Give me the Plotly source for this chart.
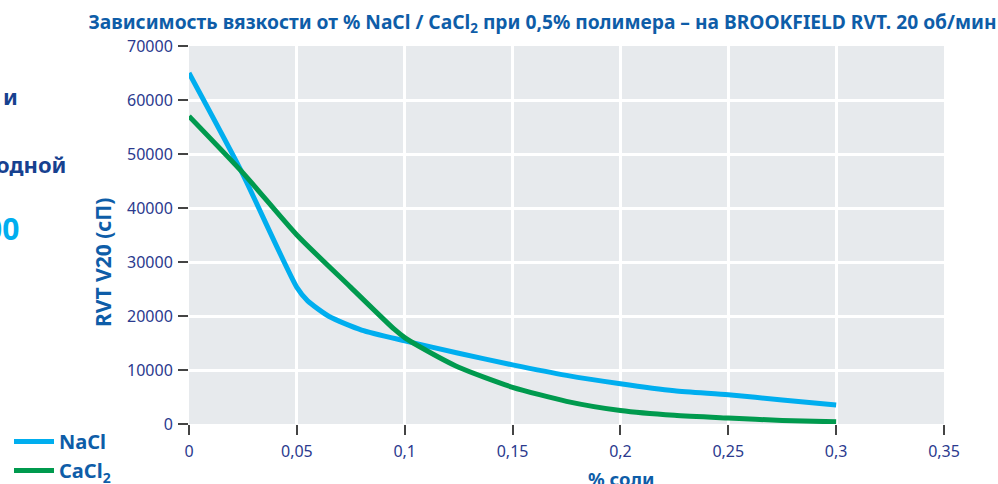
import plotly.graph_objects as go

# ---- data ----
nacl_x = [0, 0.024, 0.05, 0.055, 0.065, 0.08, 0.1, 0.125, 0.15, 0.175, 0.2, 0.225, 0.25, 0.275, 0.3]
nacl_y = [65000, 47000, 25300, 22800, 19900, 17400, 15400, 13100, 10950, 9000, 7450, 6150, 5400, 4450, 3500]

cacl2_x = [0, 0.025, 0.05, 0.075, 0.095, 0.1, 0.107, 0.125, 0.15, 0.175, 0.2, 0.225, 0.25, 0.275, 0.3]
cacl2_y = [57000, 46500, 35000, 25300, 17600, 16000, 14300, 10500, 6800, 4200, 2500, 1600, 1100, 650, 400]

x_tickvals = [0, 0.05, 0.1, 0.15, 0.2, 0.25, 0.3, 0.35]
x_ticktext = ["0", "0,05", "0,1", "0,15", "0,2", "0,25", "0,3", "0,35"]
y_tickvals = [0, 10000, 20000, 30000, 40000, 50000, 60000, 70000]
y_ticktext = ["0", "10000", "20000", "30000", "40000", "50000", "60000", "70000"]

title_text = "Зависимость вязкости от % NaCl / CaCl<sub>2</sub> при 0,5% полимера – на BROOKFIELD RVT. 20 об/мин"
x_title = "% соли"
y_title = "RVT V20 (сП)"

FONT = "Noto Sans"
BLUE = "#0E5DA8"
NAVY = "#2B3A8E"
NACL_C = "#00AEEF"
CACL_C = "#009A4E"

fig = go.Figure()
fig.add_trace(go.Scatter(x=nacl_x, y=nacl_y, mode="lines", name="NaCl",
                         line=dict(color=NACL_C, width=5, shape="spline", smoothing=0.6)))
fig.add_trace(go.Scatter(x=cacl2_x, y=cacl2_y, mode="lines", name="CaCl<sub>2</sub>",
                         line=dict(color=CACL_C, width=5, shape="spline", smoothing=0.6)))

fig.update_layout(
    width=998, height=484,
    margin=dict(l=189, r=54, t=46, b=60, autoexpand=False),
    paper_bgcolor="white",
    plot_bgcolor="#E7EAED",
    font=dict(family=FONT, color=NAVY, size=16),
    title=dict(text=title_text, x=0.5436, xanchor="center", y=0.9545, yanchor="middle",
               font=dict(family=FONT, size=19.2, color=BLUE, weight="bold")),
    showlegend=True,
    legend=dict(x=(9 - 189) / 755, y=(424 - 422) / 378, xanchor="left", yanchor="top",
                bgcolor="rgba(0,0,0,0)", tracegroupgap=0,
                font=dict(family=FONT, size=20, color=BLUE, weight="bold"),
                itemwidth=40),
)

fig.update_xaxes(range=[0, 0.35], tickvals=x_tickvals, ticktext=x_ticktext,
                 ticks="outside", ticklen=10, tickwidth=1.5, tickcolor="#444",
                 showgrid=True, gridcolor="white", gridwidth=2.5, zeroline=False,
                 showline=False, tickfont=dict(size=16, color=NAVY), ticklabelstandoff=3)
fig.update_yaxes(range=[0, 70000], tickvals=y_tickvals, ticktext=y_ticktext,
                 ticks="outside", ticklen=10, tickwidth=1.5, tickcolor="#444",
                 showgrid=True, gridcolor="white", gridwidth=2.5, zeroline=False,
                 showline=False, tickfont=dict(size=16, color=NAVY), ticklabelstandoff=2)

# axis titles (placed as in the reference, off-centre)
fig.add_annotation(text=x_title, xref="paper", yref="paper", x=(621 - 189) / 755, y=(424 - 478) / 378,
                   xanchor="center", yanchor="middle", showarrow=False,
                   font=dict(family=FONT, size=18.5, color=BLUE, weight="bold"))
fig.add_annotation(text=y_title, xref="paper", yref="paper", x=(103 - 189) / 755, y=(424 - 263) / 378,
                   xanchor="center", yanchor="middle", showarrow=False, textangle=-90,
                   font=dict(family=FONT, size=21, color=BLUE, weight="bold"))

# fragments of surrounding page text cut off at the left edge
fig.add_annotation(text="и", xref="paper", yref="paper", x=(20 - 189) / 755, y=(424 - 96) / 378,
                   xanchor="right", yanchor="middle", showarrow=False,
                   font=dict(family=FONT, size=22, color="#17418F", weight="bold"))
fig.add_annotation(text="одной", xref="paper", yref="paper", x=(68 - 189) / 755, y=(424 - 164) / 378,
                   xanchor="right", yanchor="middle", showarrow=False,
                   font=dict(family=FONT, size=22, color="#17418F", weight="bold"))
fig.add_annotation(text="00", xref="paper", yref="paper", x=(21 - 189) / 755, y=(424 - 229) / 378,
                   xanchor="right", yanchor="middle", showarrow=False,
                   font=dict(family=FONT, size=30, color=NACL_C, weight="bold"))

fig.write_html("out.html", config={"displayModeBar": False},
               post_script="document.body.style.margin='0';document.body.style.overflow='hidden';")
